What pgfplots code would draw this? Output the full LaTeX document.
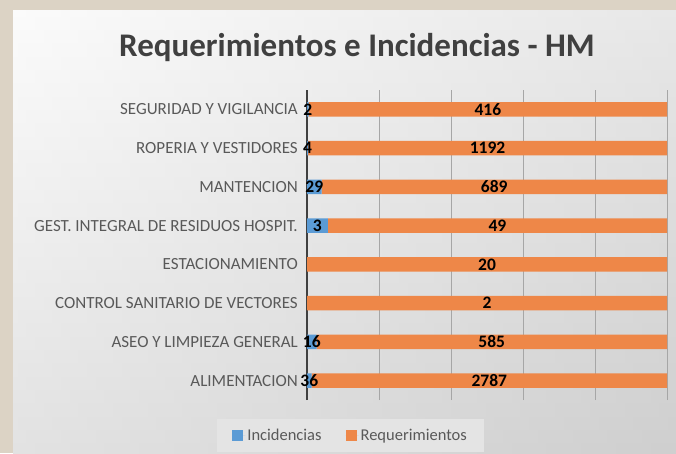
\documentclass[border=0pt]{standalone}
\usepackage{pgfplots}
\usepackage{pgfplotstable}
\pgfplotsset{compat=1.18}
\usepackage{fontspec}
\setmainfont{Carlito}
\definecolor{incblue}{HTML}{5B9BD5}
\definecolor{reqorange}{HTML}{EE8748}
\definecolor{lblgray}{HTML}{595959}
\definecolor{titlegray}{HTML}{404040}
\definecolor{beige}{HTML}{DCD3C5}
\definecolor{gridgray}{HTML}{A6A6A6}
\definecolor{legfill}{HTML}{E4E4E4}

\pgfplotstableread{
y inc req
0 36 2787
1 16 585
2 0 2
3 0 20
4 3 49
5 29 689
6 4 1192
7 2 416
}\datatable

\pgfplotsset{
  common/.style={
    at={(307pt,53pt)}, anchor=south west, scale only axis,
    width=360pt, height=310pt,
    xmin=0, xmax=100, ymin=-0.5, ymax=7.5,
  }
}

\begin{document}
\begin{tikzpicture}[x=1pt,y=1pt]
\fill[beige] (0pt,0pt) rectangle (676pt,453pt);
\shade[top color=gray!4, bottom color=gray!30] (13pt,0pt) rectangle (676pt,442pt);
\shade[left color=white, right color=gray!60, opacity=0.25] (13pt,0pt) rectangle (676pt,442pt);
\node[font=\fontsize{33}{36}\selectfont\bfseries, text=titlegray] at (357pt,405pt) {Requerimientos e Incidencias - HM};

\begin{axis}[common,
  xbar stacked, bar width=14.5pt,
  axis lines*=left,
  x axis line style={draw=none},
  y axis line style={-, draw=titlegray, line width=1.6pt},
  xtick={0,20,...,100}, xticklabels={},
  xtick style={draw=none}, ytick style={draw=none},
  xmajorgrids, grid style={draw=gridgray, line width=0.7pt},
  ytick={0,...,7},
  yticklabels={ALIMENTACION, ASEO Y LIMPIEZA GENERAL, CONTROL SANITARIO DE VECTORES, ESTACIONAMIENTO, GEST. INTEGRAL DE RESIDUOS HOSPIT.\hspace{10pt}, MANTENCION, ROPERIA Y VESTIDORES, SEGURIDAD Y VIGILANCIA},
  yticklabel style={font=\fontsize{17}{19}\selectfont, text=lblgray, inner sep=0pt, xshift=-9pt},
  legend columns=2,
  legend style={at={(axis description cs:0.121,-0.116)}, anchor=center,
    fill=legfill, draw=none, font=\fontsize{16.5}{18}\selectfont, text=lblgray,
    inner xsep=15pt, inner ysep=8pt,
    /tikz/every even column/.append style={column sep=22pt}},
  legend image code/.code={\fill[#1] (0pt,-5.5pt) rectangle (11pt,5.5pt); \path (0pt,0pt) -- (13pt,0pt);},
]
\addplot[fill=incblue, draw=none] table[x expr=\thisrow{inc}/(\thisrow{inc}+\thisrow{req})*100, y=y] {\datatable};
\addplot[fill=reqorange, draw=none] table[x expr=\thisrow{req}/(\thisrow{inc}+\thisrow{req})*100, y=y] {\datatable};
\legend{Incidencias, Requerimientos}
\end{axis}

\begin{axis}[common, hide axis,
  nodes near coords, point meta=explicit symbolic,
  nodes near coords align={center},
  every node near coord/.append style={font=\fontsize{17.5}{19}\selectfont\bfseries, text=black, inner sep=0pt},
]
\addplot[draw=none, mark=none, restrict x to domain=0.05:100] table[x expr=\thisrow{inc}/(\thisrow{inc}+\thisrow{req})*50, y=y, meta=inc] {\datatable};
\addplot[draw=none, mark=none] table[x expr=(\thisrow{inc}/(\thisrow{inc}+\thisrow{req})*100+100)/2, y=y, meta=req] {\datatable};
\end{axis}
\pgfresetboundingbox
\path (0pt,0pt) rectangle (676pt,453pt);
\end{tikzpicture}
\end{document}
